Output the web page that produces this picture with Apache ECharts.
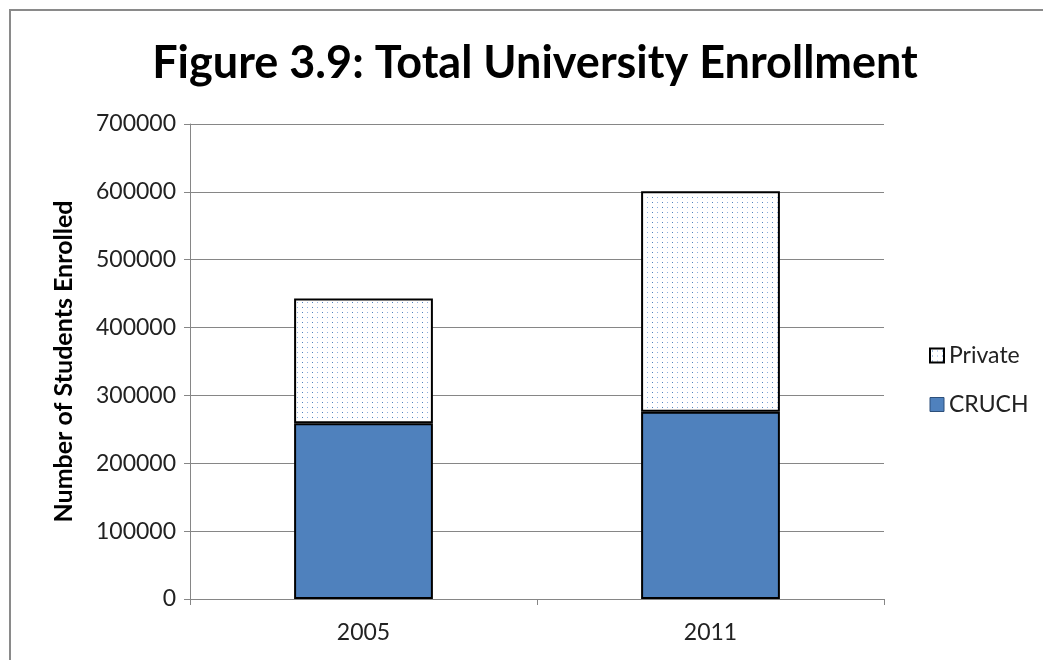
<!DOCTYPE html>
<html><head><meta charset="utf-8">
<script src="https://cdn.jsdelivr.net/npm/echarts@6/dist/echarts.min.js"></script>
<style>html,body{margin:0;padding:0;background:#fff}#c{width:1043px;height:660px}</style>
</head><body><div id="c"></div>
<script>
const categories = ['2005', '2011'];
const cruch = [259000, 276000];
const privateVals = [184000, 325000];
const yTicks = [0, 100000, 200000, 300000, 400000, 500000, 600000, 700000];

const pc = document.createElement('canvas');
pc.width = 10; pc.height = 5;
const ctx = pc.getContext('2d');
ctx.fillStyle = '#ffffff'; ctx.fillRect(0, 0, 10, 5);
ctx.fillStyle = '#4f81bd'; ctx.fillRect(2, 2, 1, 1);
ctx.fillStyle = '#8fb0de'; ctx.fillRect(7, 2, 1, 1);
const pattern = { image: pc, repeat: 'repeat' };

const chart = echarts.init(document.getElementById('c'), null, { renderer: 'canvas' });
const font = 'Lato, "Open Sans", sans-serif';
chart.setOption({
  animation: false,
  backgroundColor: '#fff',
  textStyle: { fontFamily: font },
  graphic: [{ type: 'rect', shape: { x: 10, y: 10, width: 1200, height: 800 }, style: { fill: 'none', stroke: '#8a8a8a', lineWidth: 2 }, silent: true }],
  title: { text: 'Figure 3.9: Total University Enrollment', left: 530, textAlign: 'center', top: 36,
    textStyle: { fontFamily: font, fontWeight: 'bold', fontSize: 45, color: '#000' } },
  legend: { orient: 'vertical', left: 924, top: 339, itemWidth: 14, itemHeight: 14, itemGap: 26,
    textStyle: { fontFamily: font, fontSize: 23, color: '#222' },
    data: [
      { name: 'Private', icon: 'rect', itemStyle: { color: pattern, borderColor: '#000', borderWidth: 2 } },
      { name: 'CRUCH', icon: 'rect', itemStyle: { color: '#4f81bd', borderColor: '#2d4f7a', borderWidth: 1 } }
    ] },
  grid: { left: 190, right: 159, top: 124, bottom: 61, containLabel: false },
  xAxis: { type: 'category', data: categories, boundaryGap: true,
    axisLine: { lineStyle: { color: '#868686', width: 1 } },
    axisTick: { show: true, length: 6, lineStyle: { color: '#868686' }, alignWithLabel: false },
    axisLabel: { fontFamily: font, fontSize: 23, color: '#222', margin: 22 } },
  yAxis: { type: 'value', min: yTicks[0], max: yTicks[yTicks.length - 1], interval: 100000,
    name: 'Number of Students Enrolled', nameLocation: 'middle', nameGap: 114, nameRotate: 90,
    nameTextStyle: { fontFamily: font, fontWeight: 'bold', fontSize: 25, color: '#000' },
    axisLine: { show: true, lineStyle: { color: '#868686' } },
    axisTick: { show: true, length: 6, lineStyle: { color: '#868686' } },
    splitLine: { lineStyle: { color: '#868686', width: 1 } },
    axisLabel: { fontFamily: font, fontSize: 23, color: '#222', margin: 14, formatter: v => String(v) } },
  series: [
    { name: 'CRUCH', type: 'bar', stack: 'total', data: cruch, barWidth: '40%', z: 3,
      itemStyle: { color: '#4f81bd', borderColor: '#000', borderWidth: 2 } },
    { name: 'Private', type: 'bar', stack: 'total', data: privateVals, barWidth: '40%', z: 2,
      itemStyle: { color: pattern, borderColor: '#000', borderWidth: 2 } }
  ]
});
</script></body></html>
